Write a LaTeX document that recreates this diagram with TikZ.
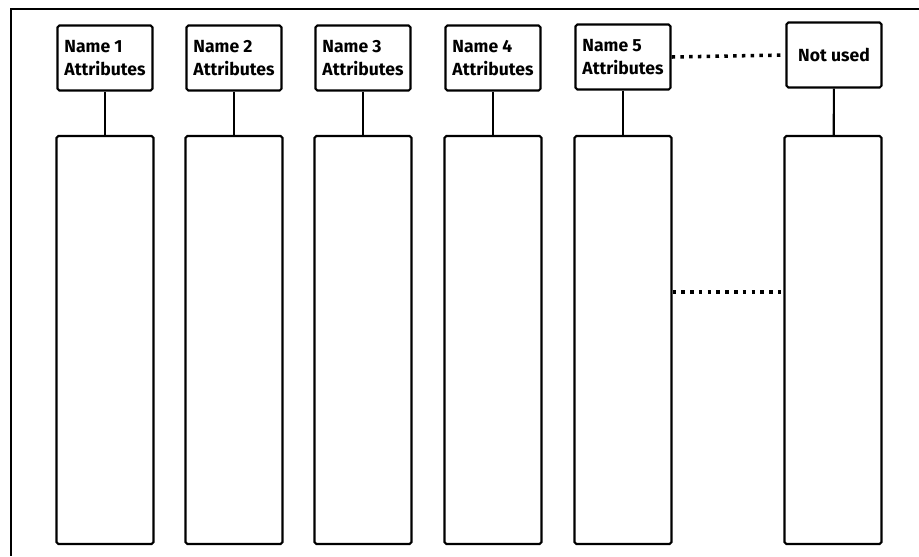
\documentclass[tikz,border=0pt]{standalone}
\usepackage{fontspec}
\setmainfont{Fira Sans}
\usetikzlibrary{arrows}

\begin{document}
\begin{tikzpicture}[x=0.02cm,y=-0.02cm,line width=1.2pt,
  name box/.style={rectangle,draw,rounded corners=1pt,minimum width=1.9cm,minimum height=1.3cm,
    align=left,inner sep=2pt,font=\fontsize{10}{13}\selectfont\bfseries},
  column box/.style={rectangle,draw,rounded corners=1pt,minimum width=1.94cm,minimum height=8.16cm},
  dots/.style={line width=2pt,dash pattern=on 2pt off 3pt}]

  \useasboundingbox (0,0) rectangle (919,556);
  % frame, cut at the picture's edges
  \draw (919,9) -- (11,9) -- (11,556);

  \node[name box] (n1) at (105,58) {Name 1\\Attributes};
  \node[name box] (n2) at (234,58) {Name 2\\Attributes};
  \node[name box] (n3) at (363,58) {Name 3\\Attributes};
  \node[name box] (n4) at (493,58) {Name 4\\Attributes};
  \node[name box] (n5) at (623,57) {Name 5\\Attributes};
  \node[name box,align=center] (nu) at (834,55) {Not used};

  \node[column box] (c1) at (105,340) {};
  \node[column box] (c2) at (234,340) {};
  \node[column box] (c3) at (363,340) {};
  \node[column box] (c4) at (493,340) {};
  \node[column box] (c5) at (623,340) {};
  \node[column box] (cu) at (833,340) {};
  \coordinate (gap) at (782,292);

  \path
    (n1) edge (c1)
    (n2) edge (c2)
    (n3) edge (c3)
    (n4) edge (c4)
    (n5) edge (c5)
    (nu) edge (cu);

  \draw[dots] (n5.east) -- (nu.west);
  \draw[dots] (c5.east |- gap) -- (gap);

\end{tikzpicture}
\end{document}
